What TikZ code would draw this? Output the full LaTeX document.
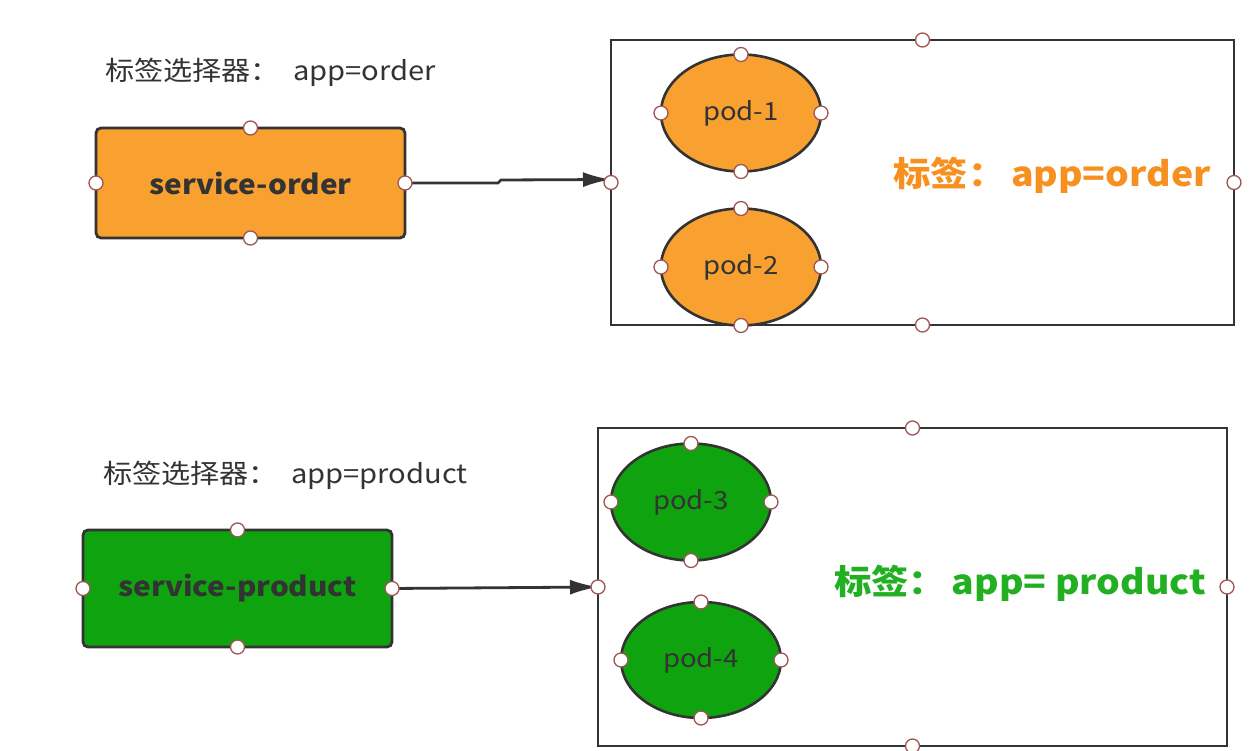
\documentclass[tikz,border=0pt]{standalone}
\usepackage{fontspec}
\setmainfont[FakeStretch=1.1]{Noto Sans CJK SC}
\usepackage{xcolor}
\usepackage{tikz}
\usetikzlibrary{arrows.meta, positioning, shapes.geometric}

\definecolor{ordfill}{HTML}{F8A030}
\definecolor{ordtext}{HTML}{F7901E}
\definecolor{prdfill}{HTML}{10A310}
\definecolor{prdtext}{HTML}{22B022}
\definecolor{ink}{HTML}{333333}
\definecolor{hndline}{HTML}{A05555}

\begin{document}
\begin{tikzpicture}[
  x=1pt, y=-1pt,
  svc/.style={rectangle, draw=ink, rounded corners=5pt, line width=2.8pt,
    minimum width=309pt, minimum height=110pt, inner sep=0pt, outer sep=0pt,
    font=\fontsize{27}{30}\selectfont\bfseries, text=ink},
  pod/.style={ellipse, draw=ink, line width=2.6pt, minimum width=160pt,
    minimum height=117pt, inner sep=0pt, outer sep=0pt,
    font=\fontsize{25}{28}\selectfont, text=ink},
  grp/.style={rectangle, draw=ink, line width=2.8pt, inner sep=0pt, outer sep=0pt},
  sel/.style={anchor=west, inner sep=0pt, font=\fontsize{26.5}{30}\selectfont, text=ink},
  tag/.style={inner sep=0pt, font=\fontsize{34}{38}\selectfont\bfseries},
  hnd/.style={circle, draw=hndline, fill=white, line width=1.3pt,
    minimum size=14pt, inner sep=0pt},
  arr/.style={-{Latex[length=28pt, width=15pt]}, line width=2.8pt, draw=ink}
]
\useasboundingbox (0,0) rectangle (1254,751);

% order
\node[sel] (t1) at (105,72) {标签选择器：\ \ app=order};
\node[svc, fill=ordfill] (s1) at (250.5,183) {service-order};
\node[grp, minimum width=623pt, minimum height=285pt] (g1) at (922.5,182.5) {};
\node[pod, fill=ordfill] (p1) at (741,113) {pod-1};
\node[pod, fill=ordfill] (p2) at (741,267) {pod-2};
\node[tag, text=ordtext] (l1) at (1052,175) {标签：\,app=order};

% product
\node[sel] (t2) at (103,475) {标签选择器：\ \ app=product};
\node[svc, fill=prdfill, minimum height=117pt] (s2) at (237.5,588.5) {service-product};
\node[grp, minimum width=629pt, minimum height=318pt] (g2) at (912.5,587) {};
\node[pod, fill=prdfill] (p3) at (691,502) {pod-3};
\node[pod, fill=prdfill, minimum height=116pt] (p4) at (701,660) {pod-4};
\node[tag, text=prdtext] (l2) at (1020,583) {标签：\,app=\ product};

\draw[arr] (s1.east) -- ++(93,0) -- ++(3,-3) -- ([yshift=3pt]g1.west);
\draw[arr] (s2.east) -- (g2.west);

% handles
\foreach \n in {s1,g1,p1,p2,s2,g2,p3,p4}
  \foreach \a in {north,south,east,west}
    \node[hnd] (\n-\a) at (\n.\a) {};
\end{tikzpicture}
\end{document}
